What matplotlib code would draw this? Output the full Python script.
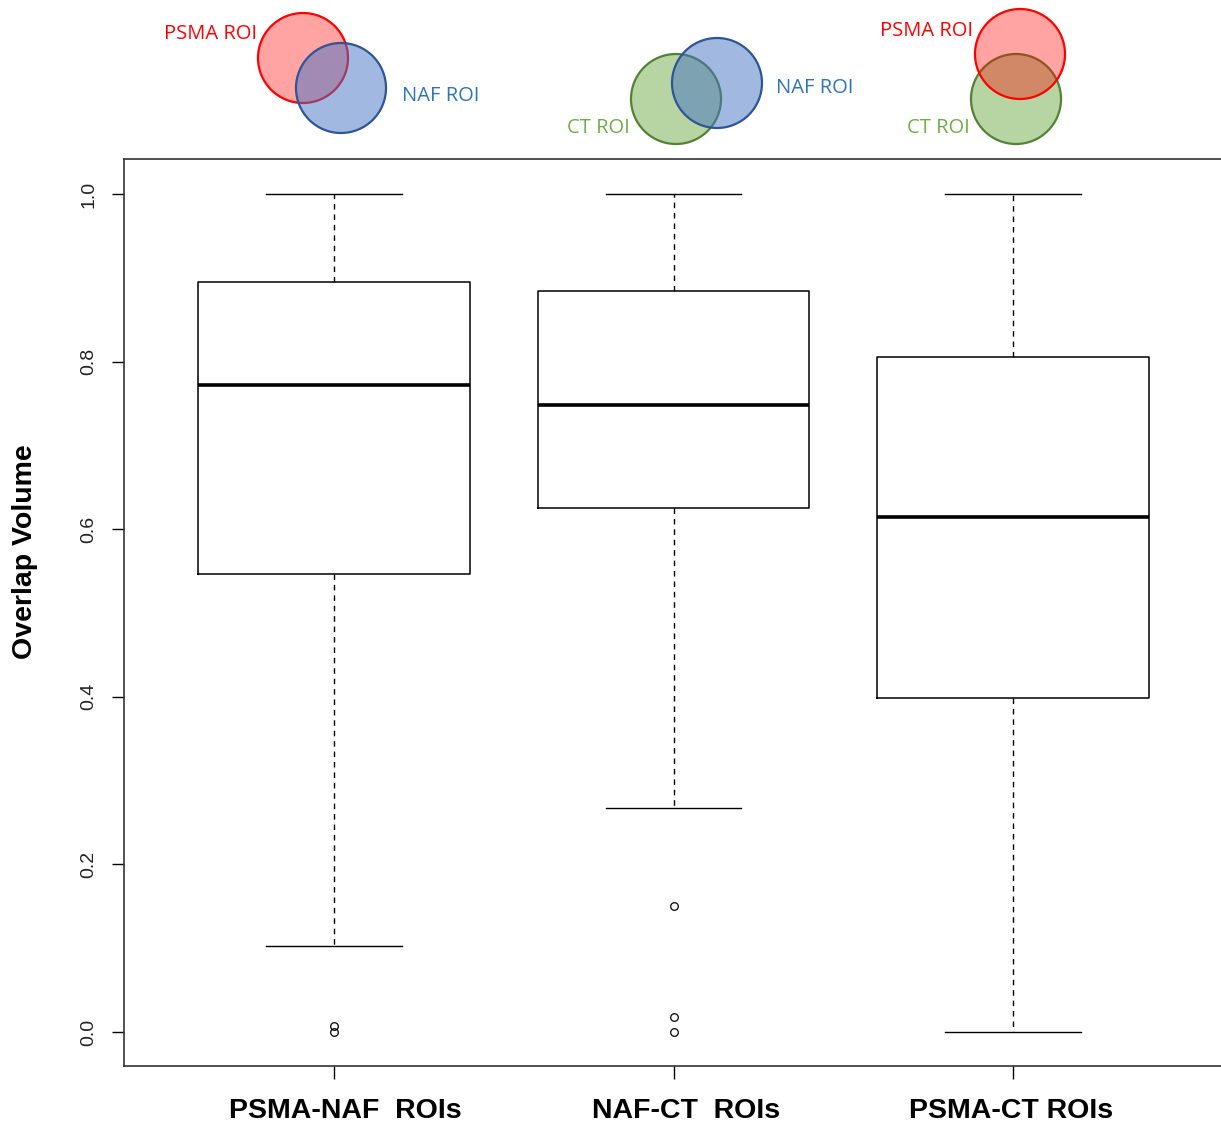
import matplotlib
matplotlib.use("Agg")
import matplotlib.pyplot as plt
from matplotlib.patches import Circle

# ---- data ----
categories = ["PSMA-NAF  ROIs", "NAF-CT  ROIs", "PSMA-CT ROIs"]
whisker_low = [0.103, 0.267, 0.0]
q1 = [0.547, 0.625, 0.399]
median = [0.772, 0.748, 0.615]
q3 = [0.895, 0.884, 0.805]
whisker_high = [1.0, 1.0, 1.0]
outliers = [[0.007, 0.0], [0.150, 0.018, 0.0], []]
yticks = [0.0, 0.2, 0.4, 0.6, 0.8, 1.0]
ytick_labels = ["0.0", "0.2", "0.4", "0.6", "0.8", "1.0"]

W, H = 1221, 1129
fig = plt.figure(figsize=(W / 100, H / 100), dpi=100)
ax = fig.add_axes([123.5 / W, (H - 1066) / H, 1100 / W, (1066 - 159) / H])

stats = []
for i in range(len(categories)):
    stats.append(dict(med=median[i], q1=q1[i], q3=q3[i],
                      whislo=whisker_low[i], whishi=whisker_high[i],
                      fliers=outliers[i], label=categories[i]))

ax.bxp(stats, positions=[1, 2, 3], widths=0.8, capwidths=0.4,
       boxprops=dict(color="black", linewidth=1.1),
       medianprops=dict(color="black", linewidth=2.6, solid_capstyle="butt"),
       whiskerprops=dict(color="black", linewidth=1.0, linestyle=(0, (4, 3.5))),
       capprops=dict(color="black", linewidth=1.0),
       flierprops=dict(marker="o", markerfacecolor="none", markeredgecolor="black",
                       markersize=5.5, markeredgewidth=0.9))

ax.set_xlim(0.38, 3.62)
ax.set_ylim(-0.0406, 1.0418)
ax.set_yticks(yticks)
ax.set_yticklabels(ytick_labels, rotation=90, va="center",
                   fontsize=14, family="Liberation Sans", color="#222222")
ax.set_xticks([1, 2, 3])
ax.set_xticklabels([])
ax.tick_params(axis="y", length=9, width=1.0, pad=10)
ax.tick_params(axis="x", length=9, width=1.0)
for s in ax.spines.values():
    s.set_linewidth(1.2)
    s.set_color("#333333")

# x category labels
label_x = [345, 686, 1011]
for lx, cat in zip(label_x, categories):
    fig.text(lx / W, 1 - 1111 / H, cat, ha="center", va="center",
             fontsize=20.5, fontweight="bold", family="Liberation Sans")

fig.text(25 / W, 1 - 552 / H, "Overlap Volume", rotation=90, ha="center",
         va="center", fontsize=20.5, fontweight="bold", family="Liberation Sans")

# ---- Venn illustrations ----
ov = fig.add_axes([0, 0, 1, 1])
ov.set_xlim(0, W)
ov.set_ylim(H, 0)
ov.axis("off")

styles = {
    "PSMA": dict(face=(1.0, 0.0, 0.0, 0.36), edge="#FF0000", text="#FF0000"),
    "NAF": dict(face=(68 / 255, 114 / 255, 196 / 255, 0.5), edge="#2F5597", text="#2E75B6"),
    "CT": dict(face=(112 / 255, 173 / 255, 71 / 255, 0.5), edge="#548235", text="#70AD47"),
}

# circles drawn in order (bottom first)
venn_circles = [
    [("PSMA", 303, 58, 45), ("NAF", 341, 88, 45)],
    [("CT", 676, 99, 45), ("NAF", 717, 83, 45)],
    [("CT", 1016, 99, 45), ("PSMA", 1020, 54, 45)],
]
venn_texts = [
    [("PSMA", 211, 34), ("NAF", 441, 96)],
    [("CT", 598, 128), ("NAF", 815, 88)],
    [("PSMA", 927, 31), ("CT", 938, 128)],
]
for circles in venn_circles:
    for key, cx, cy, r in circles:
        st = styles[key]
        ov.add_patch(Circle((cx, cy), r, facecolor=st["face"],
                            edgecolor=st["edge"], linewidth=1.6))
for texts in venn_texts:
    for key, tx, ty in texts:
        ov.text(tx, ty, key + " ROI", color=styles[key]["text"], ha="center",
                va="center", fontsize=14.5, family="Open Sans")

fig.savefig("out.png", dpi=100)
